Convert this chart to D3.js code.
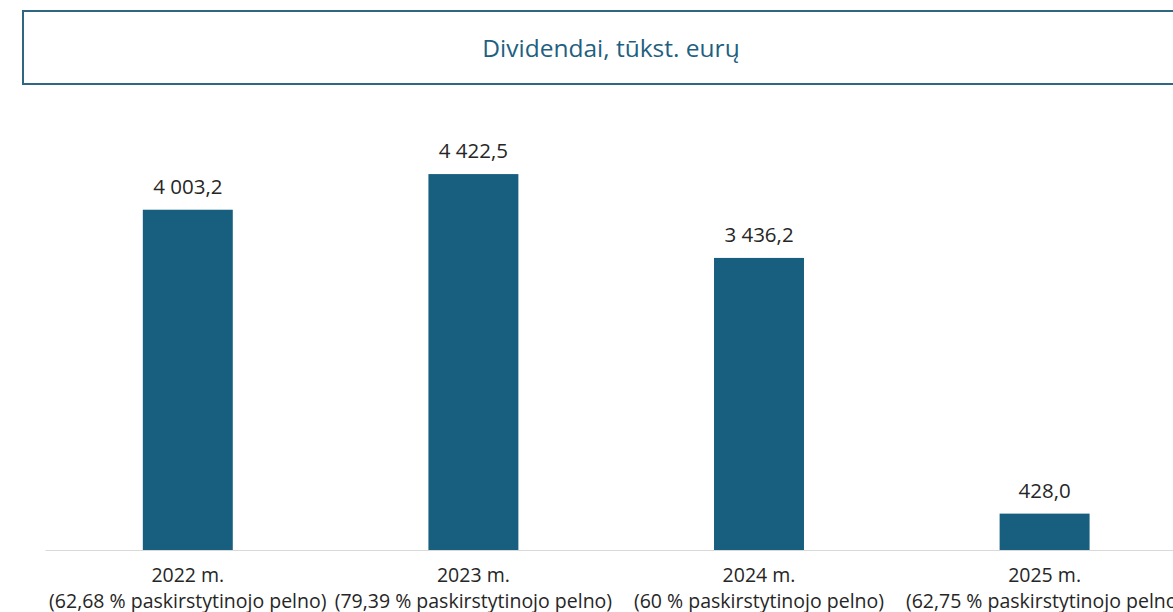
<!DOCTYPE html>
<html>
<head>
<meta charset="utf-8">
<script src="https://cdn.jsdelivr.net/npm/d3@7"></script>
<style>
	body { margin: 0; background: #fff; }
	svg text { font-family: "Open Sans", "Liberation Sans", sans-serif; }
</style>
</head>
<body>
<div id="chart"></div>
<script>
var title = "Dividendai, tūkst. eurų";
var years = ["2022 m.", "2023 m.", "2024 m.", "2025 m."];
var shares = ["(62,68 % paskirstytinojo pelno)", "(79,39 % paskirstytinojo pelno)", "(60 % paskirstytinojo pelno)", "(62,75 % paskirstytinojo pelno)"];
var dividends = [4003.2, 4422.5, 3436.2, 428.0];

var width = 1173, height = 612;
var barColor = "#175e7f";

var svg = d3.select("#chart").append("svg")
	.attr("width", width)
	.attr("height", height);

// title box (runs off the right edge like the source)
svg.append("rect")
	.attr("x", 23).attr("y", 11)
	.attr("width", 1175).attr("height", 73)
	.attr("fill", "none")
	.attr("stroke", "#2f6680")
	.attr("stroke-width", 2);

svg.append("text")
	.attr("x", 611).attr("y", 57)
	.attr("text-anchor", "middle")
	.attr("fill", "#1f5f7f")
	.attr("font-size", 24.5)
	.text(title);

var x = d3.scaleBand()
	.domain(years)
	.range([45, 45 + 4 * 285.6])
	.paddingInner(0.685)
	.paddingOuter(0.3425);

var y = d3.scaleLinear()
	.domain([0, 5000])
	.range([550, 125]);

var fmt = function (v) {
	return d3.format(",.1f")(v).replace(/,/g, " ").replace(".", ",");
};

var bars = svg.append("g");
bars.selectAll("rect")
	.data(dividends)
	.enter().append("rect")
	.attr("x", function (d, i) { return x(years[i]); })
	.attr("y", function (d) { return y(d); })
	.attr("width", x.bandwidth())
	.attr("height", function (d) { return y(0) - y(d); })
	.attr("fill", barColor);

bars.selectAll("text")
	.data(dividends)
	.enter().append("text")
	.attr("x", function (d, i) { return x(years[i]) + x.bandwidth() / 2; })
	.attr("y", function (d) { return y(d) - 16; })
	.attr("text-anchor", "middle")
	.attr("fill", "#262626")
	.attr("font-size", 20.5)
	.text(fmt);

// axis
var axis = svg.append("g")
	.attr("transform", "translate(0," + y(0) + ")")
	.call(d3.axisBottom(x).tickSize(0).tickFormat(""));
axis.select(".domain").attr("stroke", "#d9d9d9");

var labels = svg.append("g");
years.forEach(function (yr, i) {
	var cx = x(yr) + x.bandwidth() / 2;
	var t = labels.append("text")
		.attr("x", cx)
		.attr("text-anchor", "middle")
		.attr("fill", "#262626")
		.attr("font-size", 19.5);
	t.append("tspan").attr("x", cx).attr("y", 582).text(yr);
	t.append("tspan").attr("x", cx).attr("y", 608).text(shares[i]);
});
</script>
</body>
</html>
